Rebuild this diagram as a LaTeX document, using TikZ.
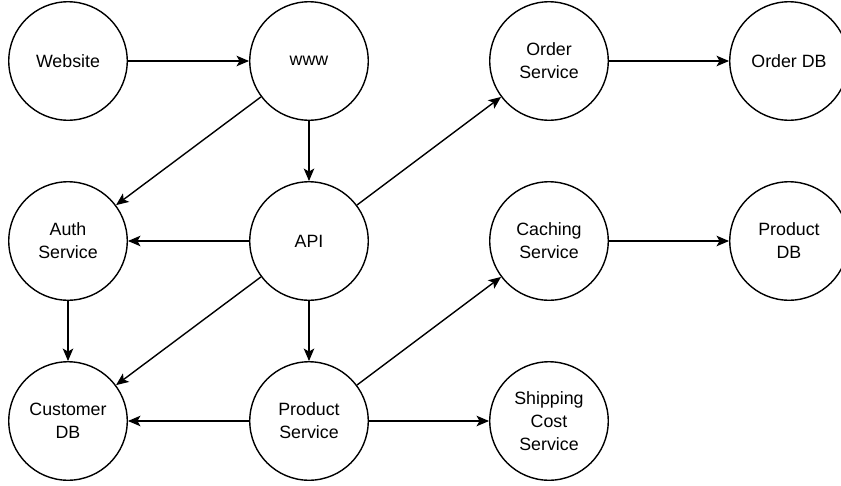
\documentclass[tikz,border=0pt]{standalone}
\usepackage{fontspec}
\setmainfont{Liberation Sans}
\usetikzlibrary{arrows.meta}
\tikzset{
  svc/.style={circle, draw=black, line width=1.4pt, minimum size=118.5pt, inner sep=0pt,
    align=center, font=\fontsize{17.8pt}{23pt}\selectfont},
  link/.style={line width=1.4pt, -{Stealth[length=12.5pt, width=10.5pt, inset=3pt]}}
}
\begin{document}
\begin{tikzpicture}[x=1pt, y=-1pt]
  \fill[white] (0,0) rectangle (841,485);
  \clip (0,0) rectangle (841,485);

  % services and stores
  \node[svc] (website) at (68,61)  {Website};
  \node[svc] (www)     at (309,61) {www};
  \node[svc] (ordsvc)  at (549,61) {Order\\Service};
  \node[svc] (orddb)   at (789,61) {Order DB};

  \node[svc] (auth)    at (68,241)  {Auth\\Service};
  \node[svc] (api)     at (309,241) {API};
  \node[svc] (cache)   at (549,241) {Caching\\Service};
  \node[svc] (proddb)  at (789,241) {Product\\DB};

  \node[svc] (custdb)  at (68,421)  {Customer\\DB};
  \node[svc] (prodsvc) at (309,421) {Product\\Service};
  \node[svc] (ship)    at (549,421) {Shipping\\Cost\\Service};

  % request flow
  \draw[link] (website) -- (www);
  \draw[link] (www) -- (auth);
  \draw[link] (www) -- (api);
  \draw[link] (api) -- (ordsvc);
  \draw[link] (api) -- (auth);
  \draw[link] (api) -- (custdb);
  \draw[link] (api) -- (prodsvc);
  \draw[link] (auth) -- (custdb);
  \draw[link] (prodsvc) -- (custdb);
  \draw[link] (prodsvc) -- (cache);
  \draw[link] (prodsvc) -- (ship);
  \draw[link] (ordsvc) -- (orddb);
  \draw[link] (cache) -- (proddb);
\end{tikzpicture}
\end{document}
